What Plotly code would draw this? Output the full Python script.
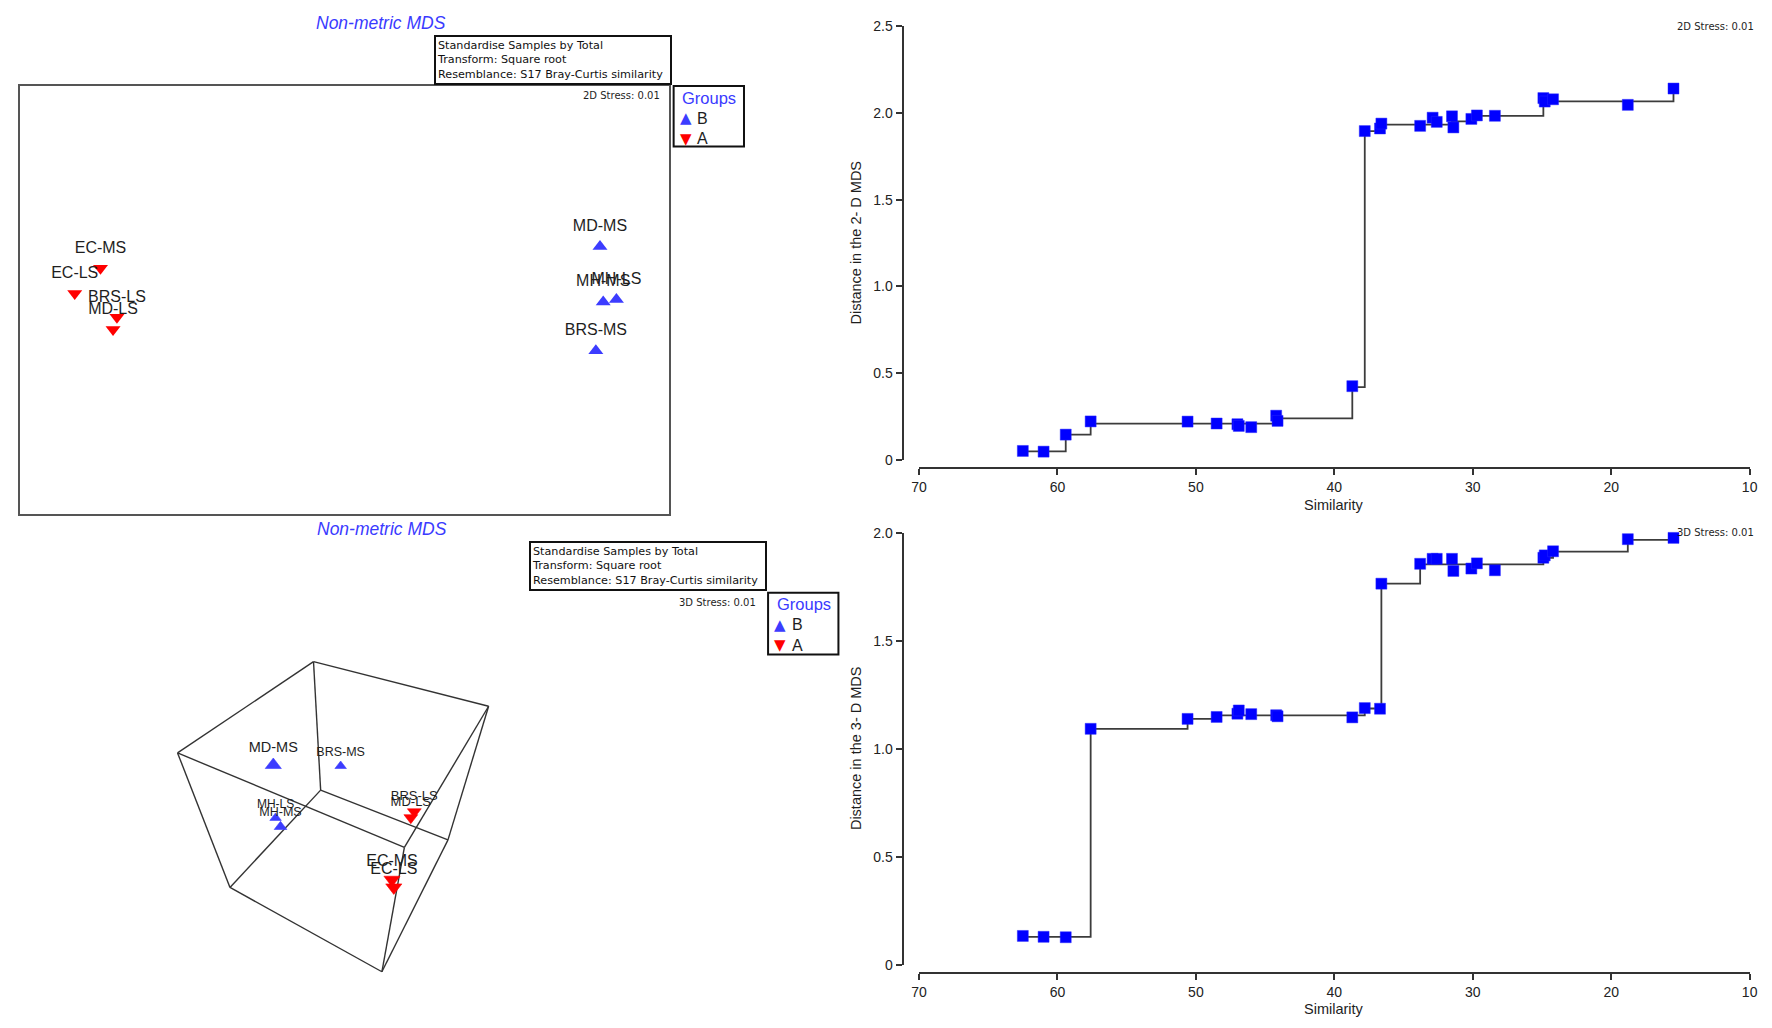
import plotly.graph_objects as go

W, H = 1772, 1028
FONT = "Liberation Sans, Arial, sans-serif"
FONT_W = "DejaVu Sans, Verdana, sans-serif"

# ---------------- data ----------------
samples = ["MD-MS", "MH-LS", "MH-MS", "BRS-MS", "EC-MS", "EC-LS", "BRS-LS", "MD-LS"]
groups = ["B", "B", "B", "B", "A", "A", "A", "A"]
group_order = ["B", "A"]

# 2D nMDS coordinates
mds2_x = [1.178, 1.254, 1.193, 1.159, -1.129, -1.248, -1.053, -1.071]
mds2_y = [0.248, 0.002, -0.010, -0.237, 0.147, 0.030, -0.081, -0.138]

# 3D nMDS ordination, as projected in the rotated cube view
mds3_u = [-0.623, -0.600, -0.550, 0.057, 0.575, 0.593, 0.800, 0.765]
mds3_v = [0.510, -0.027, -0.117, 0.500, -0.655, -0.733, 0.035, -0.025]

# projected corners of the 3D bounding cube and its edges
cube_u = [-0.217, 1.550, -1.589, -0.145, -1.060, 0.473, 1.140, 0.700]
cube_v = [1.560, 1.107, 0.633, 0.255, -0.733, -1.590, -0.250, -0.327]
cube_edges = [(0, 1), (0, 2), (0, 3), (1, 6), (1, 7), (2, 7),
              (2, 4), (3, 6), (3, 4), (4, 5), (5, 6), (5, 7)]

# Shepard diagrams: similarity vs ordination distance (+ monotone fit)
similarity = [62.5, 61.0, 59.4, 57.6, 50.6, 48.5, 47.0, 46.9, 46.0, 44.2, 44.1, 38.7,
              37.8, 36.7, 36.6, 33.8, 32.9, 32.6, 31.5, 31.4, 30.1, 29.7, 28.4,
              24.9, 24.8, 24.2, 18.8, 15.5]
dist2d = [0.053, 0.049, 0.147, 0.223, 0.222, 0.211, 0.207, 0.197, 0.190, 0.256, 0.226, 0.426,
          1.895, 1.910, 1.938, 1.925, 1.972, 1.948, 1.980, 1.916, 1.965, 1.985, 1.983,
          2.085, 2.065, 2.078, 2.046, 2.140]
fit2d = [0.050, 0.050, 0.147, 0.210, 0.210, 0.210, 0.210, 0.210, 0.210, 0.241, 0.241, 0.420,
         1.895, 1.932, 1.932, 1.932, 1.932, 1.932, 1.951, 1.951, 1.983, 1.983, 1.983,
         2.066, 2.066, 2.066, 2.066, 2.136]
dist3d = [0.133, 0.129, 0.127, 1.092, 1.138, 1.147, 1.162, 1.177, 1.160, 1.155, 1.150, 1.145,
          1.188, 1.185, 1.764, 1.856, 1.879, 1.879, 1.879, 1.823, 1.834, 1.858, 1.826,
          1.884, 1.895, 1.914, 1.970, 1.976]
fit3d = [0.129, 0.129, 0.129, 1.092, 1.138, 1.154, 1.154, 1.154, 1.154, 1.154, 1.154, 1.154,
         1.186, 1.186, 1.764, 1.853, 1.853, 1.853, 1.853, 1.853, 1.853, 1.853, 1.853,
         1.884, 1.884, 1.912, 1.967, 1.967]

x_ticks = [70, 60, 50, 40, 30, 20, 10]
y2_ticks = [0, 0.5, 1.0, 1.5, 2.0, 2.5]
y2_ticktext = ["0", "0.5", "1.0", "1.5", "2.0", "2.5"]
y3_ticks = [0, 0.5, 1.0, 1.5, 2.0]
y3_ticktext = ["0", "0.5", "1.0", "1.5", "2.0"]

info_lines = ["Standardise Samples by Total", "Transform: Square root",
              "Resemblance: S17 Bray-Curtis similarity"]

# ---------------- styles ----------------
BLUE_T = "#3c3cff"
RED_T = "#ff0000"
SQ = "#0000ff"
TXT = "#1e1e1e"
TITLE_BLUE = "#3a3aff"
group_style = {"B": dict(symbol="triangle-up", color=BLUE_T, glyph="\u25B2"),
               "A": dict(symbol="triangle-down", color=RED_T, glyph="\u25BC")}
cube_label_size = [14.5, 12, 12.5, 12.5, 16, 16, 13, 13]
cube_marker_size = [14, 10, 11, 10, 14, 14, 12, 12]


def px(x):
    return x / W


def py(y):
    return 1 - y / H


fig = go.Figure()

# ---- 2D MDS ----
for g in group_order:
    idx = [i for i, gg in enumerate(groups) if gg == g]
    fig.add_trace(go.Scatter(
        x=[mds2_x[i] for i in idx], y=[mds2_y[i] for i in idx], mode="markers",
        marker=dict(symbol=group_style[g]["symbol"], color=group_style[g]["color"], size=13,
                    opacity=1, line=dict(width=0)),
        name=g, showlegend=False, xaxis="x", yaxis="y", cliponaxis=False))
fig.add_trace(go.Scatter(
    x=mds2_x, y=mds2_y, text=samples, mode="markers+text", textposition="top center",
    textfont=dict(size=16, color=TXT, family=FONT),
    marker=dict(size=17, color="rgba(0,0,0,0)"), showlegend=False, hoverinfo="skip",
    xaxis="x", yaxis="y", cliponaxis=False))

# ---- 3D MDS (projected cube) ----
ex, ey = [], []
for a, b in cube_edges:
    ex += [cube_u[a], cube_u[b], None]
    ey += [cube_v[a], cube_v[b], None]
fig.add_trace(go.Scatter(x=ex, y=ey, mode="lines", line=dict(color="#333333", width=1.4),
                         showlegend=False, hoverinfo="skip", xaxis="x2", yaxis="y2"))
for g in group_order:
    idx = [i for i, gg in enumerate(groups) if gg == g]
    fig.add_trace(go.Scatter(
        x=[mds3_u[i] for i in idx], y=[mds3_v[i] for i in idx],
        text=[samples[i] for i in idx], mode="markers+text",
        textposition="top center",
        textfont=dict(size=[cube_label_size[i] for i in idx], color=TXT, family=FONT),
        marker=dict(symbol=group_style[g]["symbol"], color=group_style[g]["color"],
                    size=[cube_marker_size[i] for i in idx], opacity=1,
                    line=dict(color=group_style[g]["color"], width=0.6)),
        name=g, showlegend=False, xaxis="x2", yaxis="y2", cliponaxis=False))

# ---- Shepard diagrams ----
for d, f, xa, ya in [(dist2d, fit2d, "x3", "y3"), (dist3d, fit3d, "x4", "y4")]:
    fig.add_trace(go.Scatter(x=similarity, y=f, mode="lines", line_shape="hv",
                             line=dict(color="#3c3c3c", width=1.8), showlegend=False,
                             xaxis=xa, yaxis=ya, cliponaxis=False))
    fig.add_trace(go.Scatter(x=similarity, y=d, mode="markers",
                             marker=dict(symbol="square", size=11, color=SQ,
                                         line=dict(color="rgba(40,40,255,0.45)", width=1)),
                             showlegend=False, xaxis=xa, yaxis=ya, cliponaxis=False))

hidden = dict(visible=False, showgrid=False, zeroline=False)
shep_x = dict(domain=[px(919.3), px(1757.5)], range=[70, 10], anchor="free",
              tickvals=x_ticks, ticks="outside", ticklen=6, tickwidth=1.5, tickcolor="#333",
              showline=True, linecolor="#333", linewidth=2, showgrid=False, zeroline=False,
              tickfont=dict(size=14, color="#222", family=FONT))
shep_y = dict(ticks="outside", ticklen=6, tickwidth=1.5, tickcolor="#333", anchor="free",
              position=px(902.7), showline=True, linecolor="#333", linewidth=2,
              showgrid=False, zeroline=False, tickfont=dict(size=14, color="#222", family=FONT))

annotations = []
shapes = []


def ann(text, x, y, size, xanchor="center", color=TXT, angle=0, family=FONT):
    annotations.append(dict(text=text, x=px(x), y=py(y), xref="paper", yref="paper",
                            xanchor=xanchor, yanchor="middle", showarrow=False,
                            textangle=angle, font=dict(size=size, color=color, family=family)))


ann("<i>Non-metric MDS</i>", 376, 15, 17.5, color=TITLE_BLUE)
ann("<i>Non-metric MDS</i>", 377, 529, 17.5, color=TITLE_BLUE)
for bx, by in [(430, 27.3), (525.5, 541.7)]:
    annotations.append(dict(text="<br>".join(info_lines), x=px(bx), y=py(by),
                            xref="paper", yref="paper", xanchor="left", yanchor="top",
                            showarrow=False, align="left", width=232, height=44,
                            bordercolor="#111", borderwidth=2, borderpad=1, bgcolor="white",
                            font=dict(size=11.2, color="#111", family=FONT_W)))
ann("2D Stress: 0.01", 660, 89, 10, xanchor="right", family=FONT_W)
ann("3D Stress: 0.01", 757, 604.3, 10, xanchor="right", family=FONT_W)
ann("2D Stress: 0.01", 1764, 19.3, 10, xanchor="right", family=FONT_W)
ann("3D Stress: 0.01", 1764, 533, 10, xanchor="right", family=FONT_W)
ann("Similarity", 1338.4, 505, 14.5)
ann("Similarity", 1338.4, 1016.6, 14.5)
ann("Distance in the 2- D MDS", 856, 238, 14.5, angle=-90)
ann("Distance in the 3- D MDS", 856, 751.5, 14.5, angle=-90)

# group keys (legend boxes) for both ordinations
for lx, ly, lh in [(671.7, 79.3, 61.4), (767, 594, 62.7)]:
    shapes.append(dict(type="rect", xref="paper", yref="paper",
                       x0=px(lx), x1=px(lx + 71), y0=py(ly + lh), y1=py(ly),
                       line=dict(color="#111", width=2), fillcolor="white", layer="below"))
    ann("Groups", lx + 6.5, ly + 11.8, 16.5, xanchor="left", color=TITLE_BLUE)
    for k, g in enumerate(group_order):
        yy = ly + 32.5 + 21 * k
        ann(group_style[g]["glyph"], lx + 12, yy, 15, color=group_style[g]["color"],
            family=FONT_W)
        ann(g, lx + 22, yy, 16, xanchor="left")

fig.update_layout(
    width=W, height=H, margin=dict(l=0, r=0, t=0, b=0),
    paper_bgcolor="white", plot_bgcolor="white",
    font=dict(family=FONT, color=TXT),
    showlegend=False,
    xaxis=dict(domain=[px(12.5), px(667.5)], range=[-1.499, 1.499], anchor="y",
               showline=True, mirror=True, linecolor="#555", linewidth=2,
               showticklabels=False, ticks="", showgrid=False, zeroline=False),
    yaxis=dict(domain=[py(513.5), py(79.5)], range=[-0.993, 0.993], anchor="x",
               showline=True, mirror=True, linecolor="#555", linewidth=2,
               showticklabels=False, ticks="", showgrid=False, zeroline=False),
    xaxis2=dict(domain=[px(100), px(560)], range=[-2.3, 2.3], anchor="y2", **hidden),
    yaxis2=dict(domain=[py(1010), py(640)], range=[-1.9, 1.8], anchor="x2", **hidden),
    xaxis3=dict(position=py(467.7), **shep_x),
    yaxis3=dict(domain=[py(459.3), py(18.3)], range=[0, 2.5], tickvals=y2_ticks,
                ticktext=y2_ticktext, **shep_y),
    xaxis4=dict(position=py(980), **shep_x),
    yaxis4=dict(domain=[py(971.8), py(533)], range=[0, 2.0], tickvals=y3_ticks,
                ticktext=y3_ticktext, **shep_y),
    annotations=annotations,
    shapes=shapes,
)

fig.write_html(
    "out.html", config={"displayModeBar": False},
    post_script=("document.body.style.margin='0';document.body.style.overflow='hidden';"
                 "var d=document.getElementById('{plot_id}');"
                 "d.style.position='fixed';d.style.left='0px';d.style.top='0px';"))
